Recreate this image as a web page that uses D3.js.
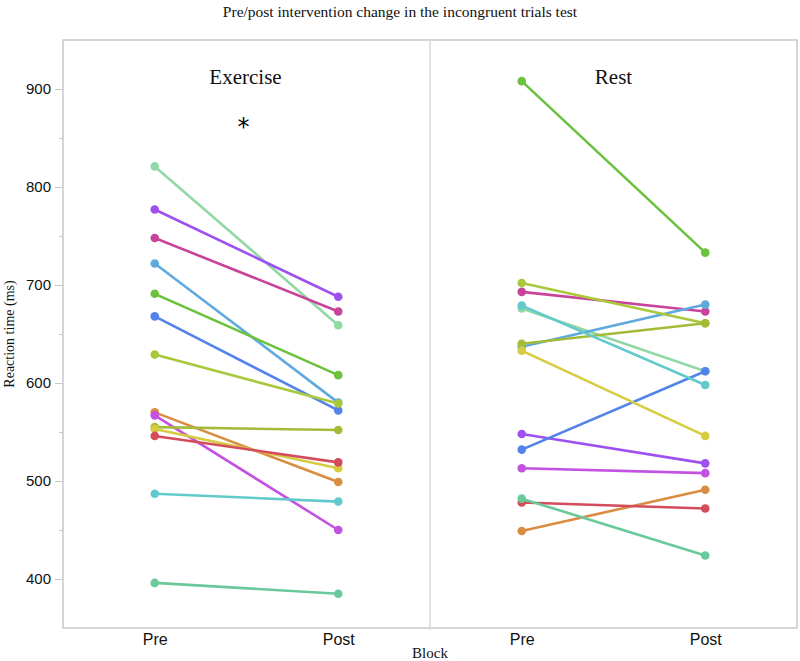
<!DOCTYPE html>
<style>
body { margin: 0; background: #fff; }
.tick text { font-family: "Liberation Sans", Arial, sans-serif; font-size: 15px; fill: #111; }
.serif { font-family: "Liberation Serif", "Times New Roman", serif; fill: #111; }
</style>
<body>
<script src="https://d3js.org/d3.v7.min.js"></script>
<script>
var width = 800, height = 661;

// one row per subject, same colour in both panels
var subjects = ["s1","s2","s3","s4","s5","s6","s7","s8","s9","s10","s11","s12","s13","s14"];
var colors = ["#92d8a4","#9d52f0","#c8449a","#5ea9de","#6cc23e","#5383ea",
              "#a9c83c","#d98c42","#c352e2","#a2bc3a","#d6cc42","#d44b5c","#62c9cc","#6ac99a"];
var blocks = ["Pre", "Post"];
var groups = ["Exercise", "Rest"];

var exercisePre  = [821, 777, 748, 722, 691, 668, 629, 570, 567, 555, 553, 546, 487, 396];
var exercisePost = [659, 688, 673, 580, 608, 572, 579, 499, 450, 552, 513, 519, 479, 385];
var restPre      = [676, 548, 693, 637, 908, 532, 702, 449, 513, 640, 633, 478, 679, 482];
var restPost     = [612, 518, 673, 680, 733, 612, 661, 491, 508, 661, 546, 472, 598, 424];

var yTicks = [400, 500, 600, 700, 800, 900];
var yMinor = [450, 550, 650, 750, 850];

var margin = {left: 63, right: 3, top: 40, bottom: 33};
var plotW = width - margin.left - margin.right;
var panelW = plotW / 2;

var svg = d3.select("body").append("svg")
  .attr("width", width).attr("height", height);

var y = d3.scaleLinear().domain([350, 950]).range([height - margin.bottom, margin.top]);

var panel = d3.scaleBand().domain(groups).range([margin.left, margin.left + plotW]);
var x = d3.scalePoint().domain(blocks).range([0, panelW]).padding(0.5);

// frame
svg.append("rect")
  .attr("x", margin.left).attr("y", margin.top)
  .attr("width", plotW).attr("height", height - margin.bottom - margin.top)
  .attr("fill", "none").attr("stroke", "#c8c8c8").attr("stroke-width", 1.5);
svg.append("line")
  .attr("x1", panel("Rest")).attr("x2", panel("Rest"))
  .attr("y1", margin.top).attr("y2", height - margin.bottom + 2)
  .attr("stroke", "#d8d8d8").attr("stroke-width", 1.5);

// y axis
var yAxis = svg.append("g")
  .attr("transform", "translate(" + margin.left + ",0)")
  .call(d3.axisLeft(y).tickValues(yTicks).tickSize(8).tickPadding(4));
yAxis.select(".domain").remove();
yAxis.selectAll(".tick line").attr("stroke", "#c8c8c8");
svg.append("g")
  .attr("transform", "translate(" + margin.left + ",0)")
  .call(d3.axisLeft(y).tickValues(yMinor).tickSize(4).tickFormat(""))
  .call(function(g) { g.select(".domain").remove(); g.selectAll("line").attr("stroke", "#c8c8c8"); });

svg.append("text").attr("class", "serif")
  .attr("transform", "translate(14," + ((margin.top + height - margin.bottom) / 2) + ") rotate(-90)")
  .attr("text-anchor", "middle").attr("font-size", 14)
  .text("Reaction time (ms)");

var data = {
  Exercise: subjects.map(function(s, i) { return {id: s, color: colors[i], pre: exercisePre[i], post: exercisePost[i]}; }),
  Rest: subjects.map(function(s, i) { return {id: s, color: colors[i], pre: restPre[i], post: restPost[i]}; })
};

groups.forEach(function(gname) {
  var g = svg.append("g").attr("transform", "translate(" + panel(gname) + ",0)");

  var xa = g.append("g")
    .attr("transform", "translate(0," + (height - margin.bottom) + ")")
    .call(d3.axisBottom(x).tickSize(0).tickPadding(6));
  xa.select(".domain").remove();
  xa.selectAll("text").style("font-size", "16px");

  g.append("text").attr("class", "serif")
    .attr("x", panelW / 2 - (gname == "Exercise" ? 1 : 0)).attr("y", 84)
    .attr("text-anchor", "middle").attr("font-size", 21)
    .text(gname);

  var subj = g.selectAll(".subject")
    .data(data[gname])
    .enter().append("g").attr("class", "subject");

  subj.append("line")
    .attr("x1", x("Pre")).attr("x2", x("Post"))
    .attr("y1", function(d) { return y(d.pre); })
    .attr("y2", function(d) { return y(d.post); })
    .attr("stroke", function(d) { return d.color; })
    .attr("stroke-width", 2.6);

  subj.selectAll("circle")
    .data(function(d) { return [{b: "Pre", v: d.pre, c: d.color}, {b: "Post", v: d.post, c: d.color}]; })
    .enter().append("circle")
    .attr("cx", function(d) { return x(d.b); })
    .attr("cy", function(d) { return y(d.v); })
    .attr("r", 4.3)
    .attr("fill", function(d) { return d.c; });
});

// significance mark
svg.append("text")
  .attr("x", panel("Exercise") + panelW / 2 - 3).attr("y", 135)
  .attr("text-anchor", "middle").attr("font-size", 24)
  .attr("font-family", "DejaVu Sans, sans-serif")
  .text("*");

svg.append("text").attr("class", "serif")
  .attr("x", width / 2).attr("y", 17)
  .attr("text-anchor", "middle").attr("font-size", 15.5)
  .text("Pre/post intervention change in the incongruent trials test");

svg.append("text").attr("class", "serif")
  .attr("x", panel("Rest")).attr("y", 658)
  .attr("text-anchor", "middle").attr("font-size", 15)
  .text("Block");
</script>
</body>
